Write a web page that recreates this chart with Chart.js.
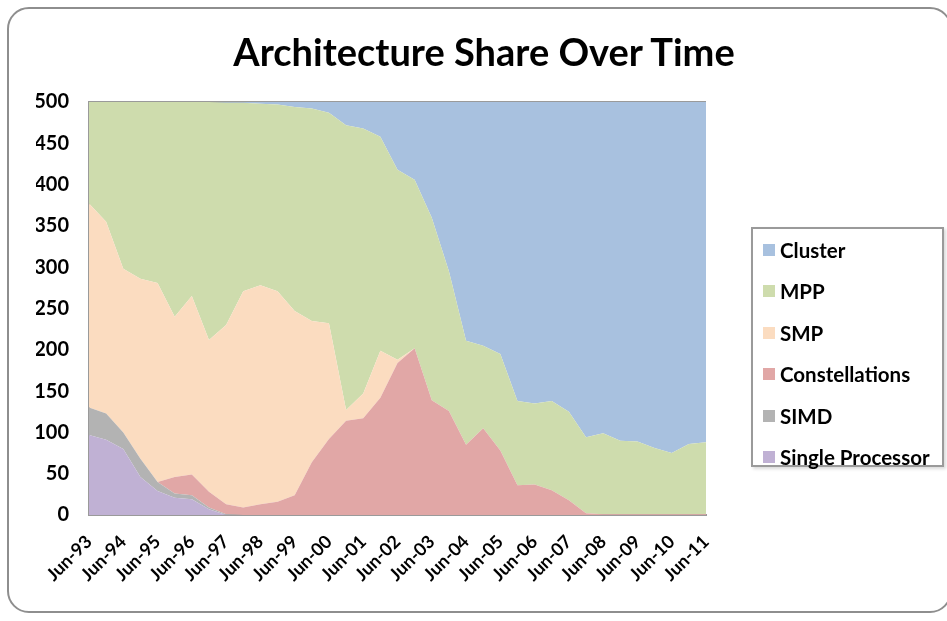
<!DOCTYPE html>
<html>
<head>
<meta charset="utf-8">
<title>Architecture Share Over Time</title>
<script src="https://cdn.jsdelivr.net/npm/chart.js@4/dist/chart.umd.min.js"></script>
<style>
    html, body { margin: 0; padding: 0; background: #fff; }
    #wrap { position: relative; width: 947px; height: 621px; overflow: hidden; }
    #archChart { position: absolute; left: 0; top: 0; }
    #chartTitle {
        position: absolute; left: 0; top: 29px; width: 968px; text-align: center;
        font-family: Lato, sans-serif; font-weight: bold; font-size: 38px; line-height: 44px; color: #000;
    }
    #frame {
        position: absolute; left: 7px; top: 7px; width: 945px; height: 606px;
        border: 2px solid #8e8e8e; border-radius: 22px; box-sizing: border-box; pointer-events: none;
    }
    #legendBox {
        position: absolute; left: 751px; top: 227px; width: 193px; height: 240px;
        border: 2px solid #9a9a9a; box-sizing: border-box; background: #fff;
        box-shadow: 2px 2px 3px rgba(0, 0, 0, 0.15);
        font-family: Lato, sans-serif; font-weight: bold; font-size: 20.5px; color: #000;
    }
    .legend-item { position: absolute; left: 10px; height: 24px; display: flex; align-items: center; white-space: nowrap; }
    .legend-swatch { width: 12px; height: 12px; margin-right: 5px; }
</style>
</head>
<body>
<div id="wrap">
    <canvas id="archChart" width="947" height="621"></canvas>
    <div id="chartTitle">Architecture Share Over Time</div>
    <div id="legendBox"></div>
    <div id="frame"></div>
</div>
<script>
/************************
 *      Resource
 ************************/
const PERIODS = [
    "Jun-93", "Nov-93", "Jun-94", "Nov-94", "Jun-95", "Nov-95", "Jun-96", "Nov-96",
    "Jun-97", "Nov-97", "Jun-98", "Nov-98", "Jun-99", "Nov-99", "Jun-00", "Nov-00",
    "Jun-01", "Nov-01", "Jun-02", "Nov-02", "Jun-03", "Nov-03", "Jun-04", "Nov-04",
    "Jun-05", "Nov-05", "Jun-06", "Nov-06", "Jun-07", "Nov-07", "Jun-08", "Nov-08",
    "Jun-09", "Nov-09", "Jun-10", "Nov-10", "Jun-11"
]

// systems per architecture, stacked bottom -> top
const SINGLE_PROCESSOR = [97, 91, 80, 46, 29, 21, 19, 7, 0, 0, 0, 0, 0, 0, 0, 0, 0, 0, 0, 0, 0, 0, 0, 0, 0, 0, 0, 0, 0, 0, 0, 0, 0, 0, 0, 0, 0]
const SIMD = [33, 32, 20, 22, 11, 5, 5, 2, 1, 0, 0, 0, 0, 0, 0, 0, 0, 0, 0, 0, 0, 0, 0, 0, 0, 0, 0, 0, 0, 0, 0, 0, 0, 0, 0, 0, 0]
const CONSTELLATIONS = [0, 0, 0, 0, 0, 20, 25, 19, 12, 9, 13, 16, 24, 64, 92, 114, 117, 142, 184, 202, 139, 126, 85, 105, 78, 36, 37, 30, 18, 2, 1, 1, 1, 1, 1, 1, 1]
const SMP = [247, 232, 198, 218, 241, 194, 216, 184, 217, 262, 265, 255, 223, 171, 140, 13, 30, 57, 4, 0, 0, 0, 0, 0, 0, 0, 0, 0, 0, 0, 0, 0, 0, 0, 0, 0, 0]
const MPP = [123, 145, 202, 214, 219, 260, 235, 288, 269, 228, 220, 226, 247, 257, 255, 345, 321, 259, 230, 204, 221, 169, 126, 100, 117, 102, 98, 108, 107, 92, 98, 89, 88, 80, 74, 85, 87]
const CLUSTER = [0, 0, 0, 0, 0, 0, 0, 0, 1, 1, 2, 3, 6, 8, 13, 28, 32, 42, 82, 94, 140, 205, 289, 295, 305, 362, 365, 362, 375, 406, 401, 410, 411, 419, 425, 414, 412]

const SERIES_NAMES = ["Single Processor", "SIMD", "Constellations", "SMP", "MPP", "Cluster"]
const SERIES_COLORS = ["#C0B1D4", "#B3B3B3", "#E1A7A6", "#FBDCC0", "#CEDCAD", "#A8C1DF"]

const FONT_FAMILY = "Lato, 'Open Sans', sans-serif"

/************************
 *      Method
 ************************/
const buildDatasets = () => {
    const values = [SINGLE_PROCESSOR, SIMD, CONSTELLATIONS, SMP, MPP, CLUSTER]
    return values.map((data, i) => ({
        label: SERIES_NAMES[i],
        data: data,
        backgroundColor: SERIES_COLORS[i],
        borderWidth: 0,
        pointRadius: 0,
        tension: 0,
        fill: i === 0 ? "origin" : "-1"
    }))
}

const buildLegend = (chart) => {
    var box = document.querySelector("#legendBox")
    var items = chart.data.datasets.slice().reverse()
    items.forEach((ds, i) => {
        var itemEle = document.createElement("div")
        var swatch = document.createElement("span")
        var textEle = document.createElement("span")

        itemEle.className = "legend-item"
        itemEle.style.top = (9 + i * 41.4) + "px"
        swatch.className = "legend-swatch"
        swatch.style.background = ds.backgroundColor
        textEle.textContent = ds.label

        itemEle.append(swatch)
        itemEle.append(textEle)
        box.append(itemEle)
    })
}

const createChart = () => {
    var chart = new Chart("archChart", {
        type: "line",
        data: {
            labels: PERIODS,
            datasets: buildDatasets()
        },
        options: {
            responsive: false,
            animation: false,
            layout: { padding: { left: 36, right: 241, top: 102, bottom: 0 } },
            plugins: {
                legend: { display: false },
                tooltip: { enabled: false },
                title: { display: false }
            },
            scales: {
                x: {
                    grid: { display: false, drawTicks: false },
                    border: { display: true, color: "#9a9a9a", width: 2 },
                    ticks: {
                        autoSkip: false,
                        maxRotation: 45,
                        minRotation: 45,
                        padding: 16,
                        color: "#000",
                        font: { family: FONT_FAMILY, size: 18, weight: "bold" },
                        callback: function (value, index) {
                            // only the June lists get a label
                            return index % 2 === 0 ? this.getLabelForValue(value) : ""
                        }
                    },
                    afterFit: (scale) => { scale.height = 106 }
                },
                y: {
                    stacked: true,
                    min: 0,
                    max: 500,
                    z: 1,
                    grid: {
                        drawTicks: false,
                        lineWidth: 2,
                        color: (ctx) => ctx.tick && ctx.tick.value === 500 ? "#9a9a9a" : "rgba(0,0,0,0)"
                    },
                    border: { display: true, color: "#9a9a9a", width: 2 },
                    ticks: {
                        stepSize: 50,
                        padding: 20,
                        color: "#000",
                        font: { family: FONT_FAMILY, size: 20, weight: "bold" }
                    },
                    afterFit: (scale) => { scale.width = 53 }
                }
            }
        }
    })
    buildLegend(chart)
}

createChart()
</script>
</body>
</html>
